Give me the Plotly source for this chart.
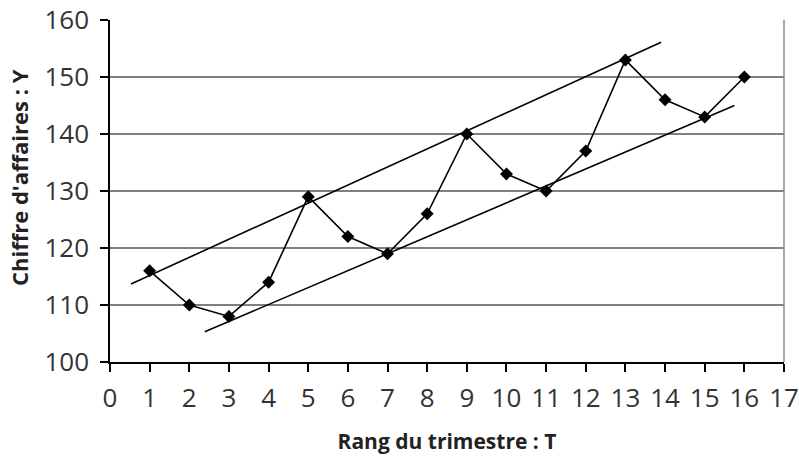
import plotly.graph_objects as go

# Quarterly turnover
rang = list(range(1, 17))
chiffre = [116, 110, 108, 114, 129, 122, 119, 126, 140, 133, 130, 137, 153, 146, 143, 150]

# Upper and lower trend band lines (endpoints)
haut_t = [0.53, 13.9]
haut_y = [113.7, 156.1]
bas_t = [2.39, 15.75]
bas_y = [105.3, 145.0]

x_ticks = list(range(0, 18))
y_ticks = [100, 110, 120, 130, 140, 150, 160]

font_family = "Open Sans, Noto Sans, DejaVu Sans, sans-serif"

fig = go.Figure()
fig.add_trace(go.Scatter(x=haut_t, y=haut_y, mode="lines",
                         line=dict(color="black", width=1.6), showlegend=False))
fig.add_trace(go.Scatter(x=bas_t, y=bas_y, mode="lines",
                         line=dict(color="black", width=1.6), showlegend=False))
fig.add_trace(go.Scatter(x=rang, y=chiffre, mode="lines+markers",
                         line=dict(color="black", width=1.6),
                         marker=dict(symbol="diamond", size=10, color="black"),
                         showlegend=False))

# Right-hand frame edge in grey
fig.add_shape(type="line", xref="paper", yref="paper", x0=1, x1=1, y0=0, y1=1,
              line=dict(color="#8c8c8c", width=1.5))

# Vertical axis title, placed slightly above the plot centre
fig.add_annotation(text="<b>Chiffre d'affaires : Y</b>", textangle=-90,
                   xref="paper", yref="paper", x=-0.134, y=0.54,
                   xanchor="center", yanchor="middle", showarrow=False,
                   font=dict(size=22, color="#222222"))

fig.update_layout(
    width=799, height=456,
    margin=dict(l=110, r=15, t=20, b=94),
    paper_bgcolor="white", plot_bgcolor="white",
    font=dict(family=font_family, color="#333333", size=26),
    xaxis=dict(range=[0, 17], tickvals=x_ticks, ticktext=[str(v) for v in x_ticks],
               automargin=False,
               showgrid=False, zeroline=False, showline=True, linecolor="black",
               linewidth=1.5, ticks="outside", ticklen=8, tickwidth=1.5, tickcolor="black",
               ticklabelstandoff=4,
               tickfont=dict(size=26, color="#333333"),
               title=dict(text="<b>Rang du trimestre : T</b>", standoff=20,
                          font=dict(size=21, color="#222222"))),
    yaxis=dict(range=[100, 160], tickvals=y_ticks, showgrid=True, gridcolor="#808080",
               automargin=False,
               gridwidth=1.5, zeroline=False, showline=True, linecolor="black",
               linewidth=1.5, ticks="outside", ticklen=8, tickwidth=1.5, tickcolor="black",
               ticklabelstandoff=6,
               tickfont=dict(size=26, color="#333333")),
)

fig.write_html("out.html")
